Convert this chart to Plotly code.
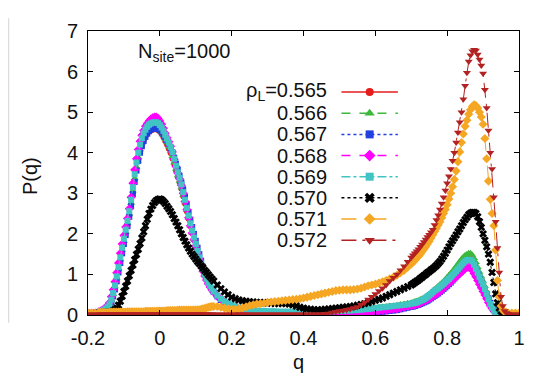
import plotly.graph_objects as go

# ---------------- q grid (finer where curves are steep) ----------------
Q_A = [-0.20, -0.19, -0.18, -0.17]
Q_B = [round(i / 1000, 3) for i in range(-165, 151, 5)]      # -0.165 .. 0.150
Q_C = [round(i / 100, 2) for i in range(16, 71)]             # 0.16 .. 0.70
Q_D = [round(i / 1000, 3) for i in range(705, 971, 5)]       # 0.705 .. 0.970
Q_E = [0.98, 0.99, 1.00]
Q = Q_A + Q_B + Q_C + Q_D + Q_E

# ---------------- series values P(q) ----------------
P_0565 = ([0.03, 0.04, 0.05, 0.07] +
          [0.08, 0.10, 0.12, 0.15, 0.19, 0.24, 0.35, 0.50,
           0.68, 0.89, 1.11, 1.34, 1.57, 1.79, 2.00, 2.22,
           2.45, 2.72, 3.02, 3.32, 3.60, 3.84, 4.03, 4.19,
           4.31, 4.40, 4.47, 4.52, 4.55, 4.57, 4.58, 4.58,
           4.56, 4.52, 4.46, 4.38, 4.29, 4.20, 4.10, 3.99,
           3.86, 3.72, 3.56, 3.41, 3.27, 3.11, 2.93, 2.75,
           2.56, 2.37, 2.19, 2.02, 1.85, 1.69, 1.53, 1.38,
           1.23, 1.10, 0.98, 0.88, 0.79, 0.71, 0.64, 0.57] +
          [0.47, 0.39, 0.33, 0.28, 0.24, 0.20, 0.17, 0.15, 0.13, 0.12,
           0.11, 0.10, 0.09, 0.09, 0.08, 0.08, 0.08, 0.07, 0.07, 0.07,
           0.07, 0.07, 0.07, 0.07, 0.07, 0.07, 0.07, 0.07, 0.08, 0.08,
           0.08, 0.08, 0.09, 0.09, 0.09, 0.10, 0.10, 0.11, 0.11, 0.12,
           0.13, 0.14, 0.15, 0.16, 0.17, 0.18, 0.19, 0.20, 0.21, 0.22,
           0.23, 0.24, 0.26, 0.27, 0.29] +
          [0.30, 0.31, 0.33, 0.34, 0.36, 0.38, 0.40, 0.43, 0.46,
           0.49, 0.53, 0.57, 0.61, 0.64, 0.68, 0.72, 0.76, 0.80,
           0.84, 0.89, 0.94, 0.99, 1.04, 1.09, 1.15, 1.21, 1.26,
           1.31, 1.35, 1.38, 1.40, 1.41, 1.40, 1.36, 1.28, 1.19,
           1.09, 0.98, 0.88, 0.78, 0.66, 0.54, 0.41, 0.29, 0.19,
           0.11, 0.06, 0.03, 0.02, 0.01, 0.01, 0.00, 0.00, 0.00] +
          [0.00, 0.00, 0.00])

P_0566 = ([0.03, 0.04, 0.05, 0.07] +
          [0.08, 0.10, 0.12, 0.15, 0.19, 0.25, 0.36, 0.51,
           0.70, 0.91, 1.14, 1.37, 1.60, 1.82, 2.04, 2.26,
           2.49, 2.76, 3.06, 3.37, 3.65, 3.89, 4.08, 4.24,
           4.36, 4.45, 4.52, 4.57, 4.60, 4.62, 4.63, 4.63,
           4.61, 4.57, 4.51, 4.43, 4.34, 4.25, 4.15, 4.04,
           3.91, 3.76, 3.60, 3.44, 3.30, 3.14, 2.96, 2.77,
           2.58, 2.39, 2.20, 2.03, 1.86, 1.70, 1.54, 1.39,
           1.24, 1.10, 0.98, 0.88, 0.79, 0.71, 0.64, 0.57] +
          [0.47, 0.39, 0.33, 0.28, 0.24, 0.20, 0.17, 0.15, 0.13, 0.12,
           0.11, 0.10, 0.09, 0.09, 0.08, 0.08, 0.08, 0.08, 0.08, 0.08,
           0.08, 0.08, 0.08, 0.08, 0.08, 0.08, 0.08, 0.08, 0.09, 0.09,
           0.09, 0.09, 0.10, 0.10, 0.10, 0.10, 0.11, 0.11, 0.12, 0.13,
           0.14, 0.15, 0.16, 0.17, 0.18, 0.19, 0.20, 0.21, 0.22, 0.23,
           0.24, 0.26, 0.27, 0.29, 0.30] +
          [0.31, 0.33, 0.34, 0.36, 0.38, 0.40, 0.42, 0.45, 0.48,
           0.51, 0.55, 0.59, 0.63, 0.67, 0.71, 0.75, 0.79, 0.83,
           0.88, 0.93, 0.98, 1.03, 1.08, 1.14, 1.20, 1.26, 1.32,
           1.38, 1.43, 1.47, 1.50, 1.52, 1.52, 1.48, 1.40, 1.30,
           1.18, 1.06, 0.95, 0.84, 0.71, 0.58, 0.44, 0.31, 0.20,
           0.12, 0.07, 0.04, 0.02, 0.01, 0.01, 0.00, 0.00, 0.00] +
          [0.00, 0.00, 0.00])

P_0567 = ([0.02, 0.03, 0.04, 0.06] +
          [0.07, 0.09, 0.11, 0.13, 0.17, 0.22, 0.32, 0.46,
           0.63, 0.83, 1.05, 1.28, 1.52, 1.75, 1.97, 2.19,
           2.42, 2.68, 2.98, 3.28, 3.56, 3.80, 4.00, 4.16,
           4.29, 4.39, 4.47, 4.53, 4.57, 4.59, 4.60, 4.60,
           4.59, 4.56, 4.52, 4.46, 4.39, 4.31, 4.22, 4.12,
           4.01, 3.88, 3.73, 3.58, 3.43, 3.27, 3.10, 2.92,
           2.73, 2.54, 2.35, 2.17, 2.00, 1.83, 1.66, 1.50,
           1.34, 1.19, 1.05, 0.93, 0.82, 0.73, 0.65, 0.57] +
          [0.46, 0.37, 0.30, 0.24, 0.19, 0.15, 0.12, 0.09, 0.07, 0.06,
           0.05, 0.04, 0.04, 0.03, 0.03, 0.03, 0.03, 0.03, 0.03, 0.03,
           0.03, 0.03, 0.03, 0.03, 0.03, 0.03, 0.03, 0.03, 0.03, 0.03,
           0.03, 0.03, 0.03, 0.03, 0.03, 0.03, 0.03, 0.04, 0.04, 0.04,
           0.04, 0.05, 0.05, 0.05, 0.06, 0.07, 0.08, 0.09, 0.10, 0.11,
           0.12, 0.14, 0.16, 0.18, 0.20] +
          [0.21, 0.22, 0.24, 0.25, 0.27, 0.29, 0.31, 0.33, 0.35,
           0.38, 0.41, 0.44, 0.47, 0.50, 0.53, 0.57, 0.60, 0.64,
           0.68, 0.72, 0.76, 0.80, 0.85, 0.90, 0.95, 1.00, 1.05,
           1.10, 1.15, 1.20, 1.24, 1.26, 1.26, 1.23, 1.17, 1.09,
           1.00, 0.91, 0.82, 0.73, 0.63, 0.52, 0.41, 0.30, 0.21,
           0.13, 0.07, 0.04, 0.02, 0.01, 0.00, 0.00, 0.00, 0.00] +
          [0.00, 0.00, 0.00])

P_0568 = ([0.03, 0.04, 0.05, 0.08] +
          [0.10, 0.12, 0.15, 0.19, 0.24, 0.30, 0.45, 0.62,
           0.82, 1.04, 1.28, 1.52, 1.75, 1.96, 2.17, 2.38,
           2.62, 2.90, 3.25, 3.58, 3.85, 4.08, 4.28, 4.43,
           4.55, 4.65, 4.72, 4.78, 4.83, 4.86, 4.88, 4.88,
           4.85, 4.78, 4.70, 4.60, 4.48, 4.37, 4.27, 4.16,
           4.02, 3.84, 3.66, 3.50, 3.36, 3.20, 3.00, 2.80,
           2.60, 2.40, 2.20, 2.02, 1.86, 1.70, 1.53, 1.37,
           1.22, 1.08, 0.96, 0.86, 0.77, 0.69, 0.62, 0.56] +
          [0.46, 0.38, 0.32, 0.27, 0.22, 0.18, 0.15, 0.12, 0.10, 0.08,
           0.07, 0.06, 0.05, 0.05, 0.04, 0.04, 0.04, 0.04, 0.04, 0.04,
           0.04, 0.04, 0.04, 0.04, 0.04, 0.04, 0.04, 0.04, 0.04, 0.04,
           0.04, 0.04, 0.04, 0.05, 0.05, 0.05, 0.05, 0.05, 0.05, 0.05,
           0.06, 0.07, 0.07, 0.08, 0.09, 0.10, 0.11, 0.12, 0.13, 0.14,
           0.15, 0.17, 0.19, 0.21, 0.23] +
          [0.24, 0.25, 0.27, 0.28, 0.30, 0.32, 0.34, 0.36, 0.38,
           0.40, 0.43, 0.46, 0.49, 0.52, 0.55, 0.58, 0.62, 0.66,
           0.70, 0.74, 0.78, 0.82, 0.86, 0.90, 0.94, 0.98, 1.02,
           1.06, 1.10, 1.14, 1.17, 1.18, 1.16, 1.10, 1.02, 0.94,
           0.85, 0.76, 0.67, 0.58, 0.49, 0.40, 0.31, 0.23, 0.16,
           0.10, 0.06, 0.03, 0.02, 0.01, 0.01, 0.01, 0.01, 0.01] +
          [0.00, 0.00, 0.00])

P_0569 = ([0.03, 0.04, 0.05, 0.07] +
          [0.09, 0.11, 0.13, 0.16, 0.20, 0.26, 0.38, 0.54,
           0.73, 0.95, 1.18, 1.42, 1.66, 1.88, 2.10, 2.32,
           2.56, 2.84, 3.15, 3.47, 3.76, 4.00, 4.20, 4.36,
           4.48, 4.57, 4.64, 4.69, 4.72, 4.74, 4.75, 4.75,
           4.73, 4.68, 4.62, 4.54, 4.44, 4.35, 4.25, 4.14,
           4.01, 3.85, 3.68, 3.52, 3.38, 3.22, 3.03, 2.84,
           2.64, 2.45, 2.26, 2.08, 1.91, 1.75, 1.58, 1.42,
           1.27, 1.13, 1.00, 0.90, 0.80, 0.72, 0.65, 0.58] +
          [0.48, 0.40, 0.34, 0.29, 0.25, 0.21, 0.18, 0.16, 0.14, 0.13,
           0.12, 0.11, 0.10, 0.10, 0.09, 0.09, 0.09, 0.08, 0.08, 0.08,
           0.08, 0.08, 0.08, 0.08, 0.08, 0.08, 0.08, 0.08, 0.08, 0.09,
           0.09, 0.09, 0.09, 0.10, 0.10, 0.10, 0.11, 0.11, 0.12, 0.12,
           0.13, 0.14, 0.15, 0.16, 0.17, 0.18, 0.19, 0.20, 0.21, 0.22,
           0.23, 0.24, 0.25, 0.26, 0.28] +
          [0.29, 0.30, 0.31, 0.33, 0.35, 0.37, 0.39, 0.42, 0.45,
           0.48, 0.52, 0.56, 0.60, 0.63, 0.66, 0.70, 0.73, 0.77,
           0.81, 0.85, 0.89, 0.93, 0.98, 1.03, 1.08, 1.13, 1.18,
           1.23, 1.28, 1.32, 1.35, 1.36, 1.36, 1.32, 1.24, 1.14,
           1.04, 0.94, 0.85, 0.76, 0.64, 0.52, 0.39, 0.27, 0.18,
           0.11, 0.06, 0.03, 0.02, 0.01, 0.01, 0.00, 0.00, 0.00] +
          [0.00, 0.00, 0.00])

P_0570 = ([0.04, 0.04, 0.04, 0.05] +
          [0.05, 0.05, 0.06, 0.06, 0.07, 0.07, 0.08, 0.10,
           0.13, 0.17, 0.24, 0.34, 0.46, 0.58, 0.71, 0.84,
           0.97, 1.10, 1.23, 1.36, 1.49, 1.62, 1.76, 1.90,
           2.05, 2.20, 2.36, 2.50, 2.61, 2.70, 2.77, 2.82,
           2.85, 2.86, 2.84, 2.80, 2.75, 2.68, 2.62, 2.55,
           2.47, 2.38, 2.29, 2.20, 2.10, 2.00, 1.91, 1.82,
           1.73, 1.65, 1.57, 1.50, 1.44, 1.38, 1.32, 1.27,
           1.21, 1.16, 1.10, 1.05, 0.99, 0.94, 0.89, 0.84] +
          [0.74, 0.65, 0.57, 0.50, 0.44, 0.40, 0.37, 0.35, 0.34, 0.33,
           0.32, 0.31, 0.31, 0.30, 0.30, 0.29, 0.28, 0.28, 0.28, 0.28,
           0.27, 0.25, 0.22, 0.19, 0.17, 0.15, 0.14, 0.13, 0.13, 0.13,
           0.14, 0.15, 0.16, 0.17, 0.18, 0.19, 0.20, 0.21, 0.22, 0.24,
           0.26, 0.28, 0.30, 0.33, 0.36, 0.39, 0.42, 0.46, 0.50, 0.54,
           0.58, 0.62, 0.66, 0.70, 0.74] +
          [0.77, 0.80, 0.83, 0.86, 0.90, 0.93, 0.97, 1.00, 1.04,
           1.07, 1.11, 1.14, 1.18, 1.22, 1.27, 1.32, 1.38, 1.45,
           1.52, 1.60, 1.68, 1.76, 1.83, 1.90, 1.97, 2.05, 2.12,
           2.20, 2.28, 2.35, 2.41, 2.47, 2.51, 2.53, 2.53, 2.50,
           2.42, 2.30, 2.16, 2.00, 1.84, 1.68, 1.50, 1.30, 1.05,
           0.80, 0.52, 0.30, 0.17, 0.10, 0.06, 0.04, 0.03, 0.02] +
          [0.01, 0.01, 0.01])

P_0571 = ([0.05, 0.05, 0.05, 0.06] +
          [0.06, 0.06, 0.06, 0.06, 0.06, 0.07, 0.07, 0.07,
           0.07, 0.07, 0.07, 0.07, 0.07, 0.07, 0.07, 0.08,
           0.08, 0.08, 0.08, 0.08, 0.08, 0.08, 0.08, 0.08,
           0.08, 0.09, 0.09, 0.09, 0.09, 0.09, 0.09, 0.09,
           0.10, 0.10, 0.10, 0.10, 0.10, 0.11, 0.11, 0.11,
           0.11, 0.11, 0.11, 0.12, 0.12, 0.12, 0.12, 0.12,
           0.12, 0.12, 0.12, 0.12, 0.12, 0.12, 0.13, 0.13,
           0.14, 0.15, 0.16, 0.18, 0.19, 0.20, 0.21, 0.21] +
          [0.21, 0.19, 0.17, 0.15, 0.14, 0.14, 0.15, 0.17, 0.20, 0.23,
           0.25, 0.27, 0.28, 0.29, 0.31, 0.32, 0.33, 0.34, 0.35, 0.36,
           0.37, 0.38, 0.39, 0.40, 0.42, 0.44, 0.46, 0.48, 0.50, 0.52,
           0.54, 0.56, 0.58, 0.60, 0.61, 0.62, 0.62, 0.62, 0.63, 0.64,
           0.66, 0.69, 0.72, 0.74, 0.76, 0.79, 0.82, 0.85, 0.89, 0.93,
           0.98, 1.04, 1.10, 1.18, 1.26] +
          [1.30, 1.35, 1.40, 1.45, 1.50, 1.56, 1.62, 1.68, 1.75,
           1.82, 1.90, 1.98, 2.06, 2.14, 2.22, 2.30, 2.40, 2.50,
           2.60, 2.72, 2.86, 3.00, 3.16, 3.34, 3.55, 3.78, 4.02,
           4.25, 4.46, 4.65, 4.80, 4.95, 5.06, 5.14, 5.18, 5.16,
           5.10, 5.00, 4.88, 4.70, 4.35, 3.85, 3.30, 2.85, 2.50,
           2.20, 1.60, 0.85, 0.45, 0.22, 0.12, 0.08, 0.06, 0.05] +
          [0.05, 0.05, 0.05])

P_0572 = ([0.02, 0.02, 0.02, 0.02] +
          [0.02, 0.02, 0.02, 0.02, 0.02, 0.02, 0.02, 0.02,
           0.02, 0.02, 0.02, 0.02, 0.02, 0.02, 0.02, 0.02,
           0.02, 0.02, 0.02, 0.02, 0.02, 0.02, 0.02, 0.02,
           0.02, 0.02, 0.02, 0.02, 0.02, 0.02, 0.02, 0.02,
           0.02, 0.02, 0.02, 0.02, 0.02, 0.02, 0.02, 0.02,
           0.02, 0.02, 0.02, 0.02, 0.02, 0.02, 0.02, 0.02,
           0.02, 0.02, 0.02, 0.02, 0.02, 0.02, 0.02, 0.02,
           0.02, 0.02, 0.02, 0.02, 0.02, 0.02, 0.02, 0.02] +
          [0.02, 0.02, 0.02, 0.02, 0.02, 0.02, 0.02, 0.02, 0.02, 0.02,
           0.02, 0.02, 0.02, 0.02, 0.02, 0.02, 0.02, 0.02, 0.02, 0.02,
           0.02, 0.02, 0.02, 0.02, 0.02, 0.02, 0.02, 0.02, 0.02, 0.02,
           0.03, 0.04, 0.06, 0.08, 0.10, 0.11, 0.13, 0.15, 0.17, 0.20,
           0.25, 0.31, 0.38, 0.45, 0.52, 0.59, 0.66, 0.74, 0.84, 0.92,
           1.00, 1.10, 1.20, 1.31, 1.42] +
          [1.47, 1.52, 1.57, 1.62, 1.68, 1.74, 1.80, 1.86, 1.92,
           1.98, 2.04, 2.10, 2.22, 2.34, 2.46, 2.60, 2.75, 2.90,
           3.07, 3.25, 3.42, 3.60, 3.80, 4.00, 4.25, 4.50, 4.75,
           5.00, 5.32, 5.65, 5.97, 6.25, 6.40, 6.50, 6.54, 6.52,
           6.42, 6.30, 6.15, 5.95, 5.55, 5.10, 4.55, 4.00, 3.60,
           2.90, 2.30, 1.65, 1.05, 0.45, 0.22, 0.10, 0.05, 0.03] +
          [0.02, 0.02, 0.02])

SERIES = [P_0565, P_0566, P_0567, P_0568, P_0569, P_0570, P_0571, P_0572]
LABELS = ["ρ<sub>L</sub>=0.565", "0.566", "0.567", "0.568",
          "0.569", "0.570", "0.571", "0.572"]
for s in SERIES:
    assert len(s) == len(Q), (len(s), len(Q))

# ---------------- styles ----------------
COLORS = ["#e41c1c", "#3cb83c", "#2040e0", "#ff00ff",
          "#40c4c4", "#000000", "#f5a623", "#b22222"]
SYMBOLS = ["circle", "triangle-up", "square", "diamond",
           "square", "x", "diamond", "triangle-down"]
DASHES = ["solid", "dash", "dot", "dash", "dashdot", "dot", "longdash", "longdashdot"]
MSIZE = [6, 7, 6, 7, 6, 7, 7, 7]

X_TICKS = [-0.2, 0, 0.2, 0.4, 0.6, 0.8, 1.0]
X_TICK_TEXT = ["-0.2", "0", "0.2", "0.4", "0.6", "0.8", "1"]
Y_TICKS = [0, 1, 2, 3, 4, 5, 6, 7]

FONT = "Liberation Sans, Arial, Helvetica, sans-serif"
FS = 20

fig = go.Figure()

for i, (p, lab) in enumerate(zip(SERIES, LABELS)):
    fig.add_trace(go.Scatter(
        x=Q, y=p, mode="lines+markers", showlegend=False,
        line=dict(color=COLORS[i], width=1, dash=DASHES[i]),
        marker=dict(symbol=SYMBOLS[i], size=MSIZE[i], color=COLORS[i],
                    line=dict(width=0)),
    ))

# ---------------- hand-built legend (text left, sample right) ----------------
LEG_TEXT_X = 0.560      # right edge of labels (fraction of plot width)
LEG_LINE_X0 = 0.588
LEG_LINE_X1 = 0.719
LEG_TOP = 0.785         # first row (fraction of plot height)
LEG_STEP = 0.0745

for i, lab in enumerate(LABELS):
    yy = LEG_TOP - i * LEG_STEP
    fig.add_trace(go.Scatter(
        x=[LEG_LINE_X0, LEG_LINE_X1], y=[yy, yy], mode="lines",
        xaxis="x2", yaxis="y2", showlegend=False, cliponaxis=False,
        line=dict(color=COLORS[i], width=1.5, dash=DASHES[i]), hoverinfo="skip"))
    fig.add_trace(go.Scatter(
        x=[(LEG_LINE_X0 + LEG_LINE_X1) / 2], y=[yy], mode="markers",
        xaxis="x2", yaxis="y2", showlegend=False, cliponaxis=False,
        marker=dict(symbol=SYMBOLS[i], size=MSIZE[i] + 2, color=COLORS[i]),
        hoverinfo="skip"))
    fig.add_annotation(
        x=LEG_TEXT_X, y=yy, xref="paper", yref="paper",
        text=lab, showarrow=False, xanchor="right", yanchor="middle",
        yshift=(1 if i == 0 else 0),
        font=dict(family=FONT, size=FS, color="#111111"))

fig.add_annotation(x=0.112, y=0.925, xref="paper", yref="paper",
                   text="N<sub>site</sub>=1000", showarrow=False,
                   xanchor="left", yanchor="middle",
                   font=dict(family=FONT, size=FS, color="#111111"))
fig.add_annotation(x=-0.134, y=0.49, xref="paper", yref="paper",
                   text="P(q)", textangle=-90, showarrow=False,
                   xanchor="center", yanchor="middle",
                   font=dict(family=FONT, size=FS, color="#111111"))
fig.add_annotation(x=0.488, y=-0.165, xref="paper", yref="paper",
                   text="q", showarrow=False,
                   xanchor="center", yanchor="middle",
                   font=dict(family=FONT, size=FS, color="#111111"))

# faint scan border at the left
fig.add_shape(type="line", xref="paper", yref="paper",
              x0=-0.184, x1=-0.184, y0=-0.027, y1=1.045,
              line=dict(color="#d4d4d4", width=1))

axis_common = dict(showline=True, linecolor="black", linewidth=1,
                   mirror="allticks", ticks="inside", ticklen=5,
                   tickcolor="black", showgrid=False, zeroline=False,
                   tickfont=dict(family=FONT, size=FS, color="#111111"))

# the page body adds an 8 px margin, so the figure is sized 8 px smaller
fig.update_layout(
    width=529, height=370,
    margin=dict(l=80, r=15, t=15, b=63),
    paper_bgcolor="white", plot_bgcolor="white",
    xaxis=dict(range=[-0.2, 1.0], tickvals=X_TICKS, ticktext=X_TICK_TEXT,
               ticklabelstandoff=5, **axis_common),
    yaxis=dict(range=[0, 7], tickvals=Y_TICKS, ticklabelstandoff=5,
               **axis_common),
    xaxis2=dict(overlaying="x", range=[0, 1], visible=False, anchor="y2"),
    yaxis2=dict(overlaying="y", range=[0, 1], visible=False, anchor="x2"),
    showlegend=False,
)

fig.write_html("out.html")
